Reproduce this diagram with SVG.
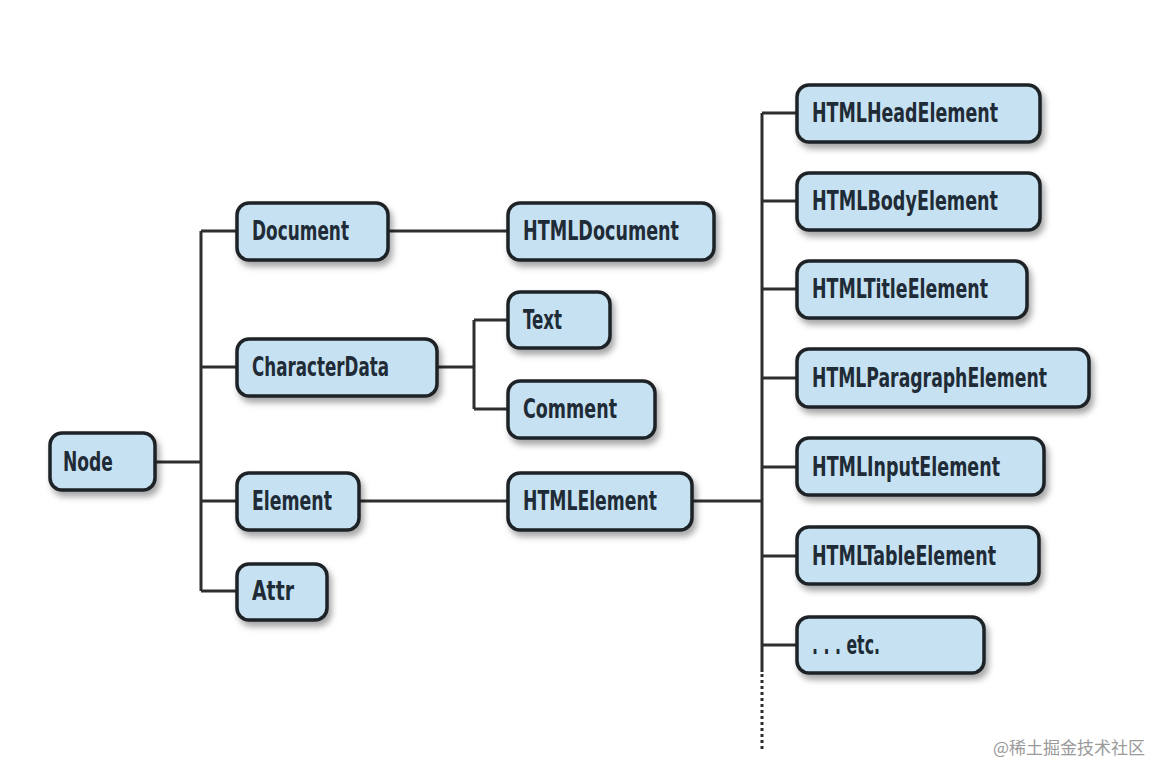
<svg xmlns="http://www.w3.org/2000/svg" width="1176" height="780" viewBox="0 0 1176 780">
<defs>
<filter id="sh" x="-10%" y="-20%" width="130%" height="160%">
<feDropShadow dx="3" dy="5" stdDeviation="3" flood-color="#000" flood-opacity="0.35"/>
</filter>
<style>
.n rect{fill:#c6e2f2;stroke:#1e2226;stroke-width:3.5;filter:url(#sh)}
.n text{font-family:"DejaVu Sans Condensed","DejaVu Sans",sans-serif;font-weight:bold;font-size:26px;fill:#1f2b36}
.c path{fill:none;stroke:#2e2e2e;stroke-width:3}
.wm{font-family:"Noto Sans CJK SC",sans-serif;font-size:17px;fill:#9a9a9a}
</style>
</defs>
<rect width="1176" height="780" fill="#fff"/>
<g class="c">
<path d="M155 462H201M201 231V591M201 231H237M201 367H237M201 501H237M201 591H237"/>
<path d="M388 231H508"/>
<path d="M437 367H474M474 320V409M474 320H508M474 409H508"/>
<path d="M359 501H508"/>
<path d="M692 501H762M762 113V672M762 113H797M762 201H797M762 289H797M762 378H797M762 467H797M762 556H797M762 645H797"/>
<path d="M762 674V752" stroke-dasharray="3 3"/>
</g>
<g id="node" class="n"><rect x="50" y="433" width="105" height="57" rx="12"/><text x="63" y="471" textLength="50" lengthAdjust="spacingAndGlyphs">Node</text></g>
<g id="document" class="n"><rect x="237" y="203" width="151" height="57" rx="12"/><text x="252" y="240" textLength="97" lengthAdjust="spacingAndGlyphs">Document</text></g>
<g id="characterdata" class="n"><rect x="237" y="339" width="200" height="57" rx="12"/><text x="252" y="376" textLength="137" lengthAdjust="spacingAndGlyphs">CharacterData</text></g>
<g id="element" class="n"><rect x="237" y="473" width="122" height="57" rx="12"/><text x="252" y="510" textLength="80" lengthAdjust="spacingAndGlyphs">Element</text></g>
<g id="attr" class="n"><rect x="237" y="564" width="90" height="56" rx="12"/><text x="252" y="600" textLength="42" lengthAdjust="spacingAndGlyphs">Attr</text></g>
<g id="htmldocument" class="n"><rect x="508" y="203" width="206" height="57" rx="12"/><text x="523" y="240" textLength="156" lengthAdjust="spacingAndGlyphs">HTMLDocument</text></g>
<g id="text" class="n"><rect x="508" y="292" width="102" height="56" rx="12"/><text x="523" y="329" textLength="39" lengthAdjust="spacingAndGlyphs">Text</text></g>
<g id="comment" class="n"><rect x="508" y="381" width="147" height="57" rx="12"/><text x="523" y="418" textLength="94" lengthAdjust="spacingAndGlyphs">Comment</text></g>
<g id="htmlelement" class="n"><rect x="508" y="473" width="184" height="57" rx="12"/><text x="523" y="510" textLength="134" lengthAdjust="spacingAndGlyphs">HTMLElement</text></g>
<g id="htmlheadelement" class="n"><rect x="797" y="85" width="243" height="57" rx="12"/><text x="812" y="122" textLength="186" lengthAdjust="spacingAndGlyphs">HTMLHeadElement</text></g>
<g id="htmlbodyelement" class="n"><rect x="797" y="173" width="243" height="57" rx="12"/><text x="812" y="210" textLength="186" lengthAdjust="spacingAndGlyphs">HTMLBodyElement</text></g>
<g id="htmltitleelement" class="n"><rect x="797" y="261" width="230" height="57" rx="12"/><text x="812" y="298" textLength="176" lengthAdjust="spacingAndGlyphs">HTMLTitleElement</text></g>
<g id="htmlparagraphelement" class="n"><rect x="797" y="349" width="292" height="58" rx="12"/><text x="812" y="387" textLength="235" lengthAdjust="spacingAndGlyphs">HTMLParagraphElement</text></g>
<g id="htmlinputelement" class="n"><rect x="797" y="438" width="247" height="57" rx="12"/><text x="812" y="476" textLength="188" lengthAdjust="spacingAndGlyphs">HTMLInputElement</text></g>
<g id="htmltableelement" class="n"><rect x="797" y="527" width="242" height="57" rx="12"/><text x="812" y="565" textLength="184" lengthAdjust="spacingAndGlyphs">HTMLTableElement</text></g>
<g id="etc" class="n"><rect x="797" y="617" width="187" height="56" rx="12"/><text x="812" y="654" textLength="68" lengthAdjust="spacingAndGlyphs">. . . etc.</text></g>
<text class="wm" x="993" y="754">@稀土掘金技术社区</text>
</svg>
